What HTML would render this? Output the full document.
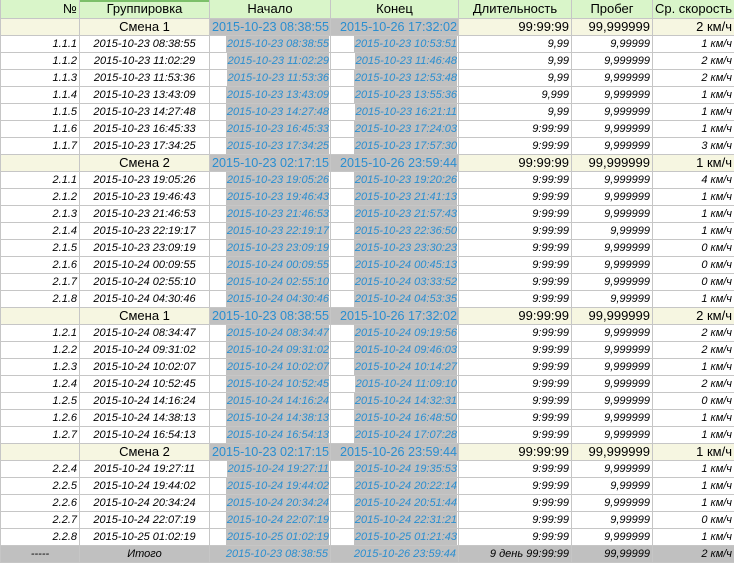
<!DOCTYPE html>
<html><head><meta charset="utf-8"><style>
html,body{margin:0;padding:0;background:#fff;}
body{width:734px;height:564px;overflow:hidden;font-family:"Liberation Sans",sans-serif;}
table{border-collapse:collapse;table-layout:fixed;width:734px;}
td{border:1px solid #c6c6c6;padding:0 2px;height:16px;line-height:16px;white-space:nowrap;overflow:hidden;text-align:right;font-size:11px;font-style:italic;color:#000;}
td:nth-child(2){text-align:center;}
tr.hd td{background:#d9f5c9;font-size:13px;font-style:normal;height:18px;text-align:center;border-top:none;}
tr.hd td:first-child{text-align:right;}
tr.hd td:nth-child(2){box-shadow:inset 0 2px 0 #7cc06a;}
tr.g td{background:#f6f6e1;font-size:13px;font-style:normal;}
tr.g td.b{background:#c0c0c0;color:#2a8ed0;padding:0 1px;font-size:12.6px;text-align:right;}
.h{background:#c0c0c0;color:#2a8ed0;display:inline-block;line-height:16px;padding-left:1px;}
td.hc{padding-right:1px;}
tr.t td{background:#c0c0c0;}
tr.t td.bl{color:#2a8ed0;}
</style></head><body>
<table>
<colgroup><col style="width:79px"><col style="width:130px"><col style="width:121px"><col style="width:128px"><col style="width:113px"><col style="width:81px"><col style="width:82px"></colgroup>
<tr class="hd"><td>№</td><td>Группировка</td><td>Начало</td><td>Конец</td><td>Длительность</td><td>Пробег</td><td style="padding:0 1px">Ср. скорость</td></tr>
<tr class="g"><td></td><td>Смена 1</td><td class="b">2015-10-23 08:38:55</td><td class="b">2015-10-26 17:32:02</td><td>99:99:99</td><td>99,999999</td><td>2 км/ч</td></tr>
<tr><td>1.1.1</td><td>2015-10-23 08:38:55</td><td class="hc"><span class="h">2015-10-23 08:38:55</span></td><td class="hc"><span class="h">2015-10-23 10:53:51</span></td><td>9,99</td><td>9,99999</td><td>1 км/ч</td></tr>
<tr><td>1.1.2</td><td>2015-10-23 11:02:29</td><td class="hc"><span class="h">2015-10-23 11:02:29</span></td><td class="hc"><span class="h">2015-10-23 11:46:48</span></td><td>9,99</td><td>9,999999</td><td>2 км/ч</td></tr>
<tr><td>1.1.3</td><td>2015-10-23 11:53:36</td><td class="hc"><span class="h">2015-10-23 11:53:36</span></td><td class="hc"><span class="h">2015-10-23 12:53:48</span></td><td>9,99</td><td>9,999999</td><td>2 км/ч</td></tr>
<tr><td>1.1.4</td><td>2015-10-23 13:43:09</td><td class="hc"><span class="h">2015-10-23 13:43:09</span></td><td class="hc"><span class="h">2015-10-23 13:55:36</span></td><td>9,999</td><td>9,999999</td><td>1 км/ч</td></tr>
<tr><td>1.1.5</td><td>2015-10-23 14:27:48</td><td class="hc"><span class="h">2015-10-23 14:27:48</span></td><td class="hc"><span class="h">2015-10-23 16:21:11</span></td><td>9,99</td><td>9,999999</td><td>1 км/ч</td></tr>
<tr><td>1.1.6</td><td>2015-10-23 16:45:33</td><td class="hc"><span class="h">2015-10-23 16:45:33</span></td><td class="hc"><span class="h">2015-10-23 17:24:03</span></td><td>9:99:99</td><td>9,999999</td><td>1 км/ч</td></tr>
<tr><td>1.1.7</td><td>2015-10-23 17:34:25</td><td class="hc"><span class="h">2015-10-23 17:34:25</span></td><td class="hc"><span class="h">2015-10-23 17:57:30</span></td><td>9:99:99</td><td>9,999999</td><td>3 км/ч</td></tr>
<tr class="g"><td></td><td>Смена 2</td><td class="b">2015-10-23 02:17:15</td><td class="b">2015-10-26 23:59:44</td><td>99:99:99</td><td>99,999999</td><td>1 км/ч</td></tr>
<tr><td>2.1.1</td><td>2015-10-23 19:05:26</td><td class="hc"><span class="h">2015-10-23 19:05:26</span></td><td class="hc"><span class="h">2015-10-23 19:20:26</span></td><td>9:99:99</td><td>9,999999</td><td>4 км/ч</td></tr>
<tr><td>2.1.2</td><td>2015-10-23 19:46:43</td><td class="hc"><span class="h">2015-10-23 19:46:43</span></td><td class="hc"><span class="h">2015-10-23 21:41:13</span></td><td>9:99:99</td><td>9,999999</td><td>1 км/ч</td></tr>
<tr><td>2.1.3</td><td>2015-10-23 21:46:53</td><td class="hc"><span class="h">2015-10-23 21:46:53</span></td><td class="hc"><span class="h">2015-10-23 21:57:43</span></td><td>9:99:99</td><td>9,999999</td><td>1 км/ч</td></tr>
<tr><td>2.1.4</td><td>2015-10-23 22:19:17</td><td class="hc"><span class="h">2015-10-23 22:19:17</span></td><td class="hc"><span class="h">2015-10-23 22:36:50</span></td><td>9:99:99</td><td>9,99999</td><td>1 км/ч</td></tr>
<tr><td>2.1.5</td><td>2015-10-23 23:09:19</td><td class="hc"><span class="h">2015-10-23 23:09:19</span></td><td class="hc"><span class="h">2015-10-23 23:30:23</span></td><td>9:99:99</td><td>9,999999</td><td>0 км/ч</td></tr>
<tr><td>2.1.6</td><td>2015-10-24 00:09:55</td><td class="hc"><span class="h">2015-10-24 00:09:55</span></td><td class="hc"><span class="h">2015-10-24 00:45:13</span></td><td>9:99:99</td><td>9,999999</td><td>0 км/ч</td></tr>
<tr><td>2.1.7</td><td>2015-10-24 02:55:10</td><td class="hc"><span class="h">2015-10-24 02:55:10</span></td><td class="hc"><span class="h">2015-10-24 03:33:52</span></td><td>9:99:99</td><td>9,999999</td><td>0 км/ч</td></tr>
<tr><td>2.1.8</td><td>2015-10-24 04:30:46</td><td class="hc"><span class="h">2015-10-24 04:30:46</span></td><td class="hc"><span class="h">2015-10-24 04:53:35</span></td><td>9:99:99</td><td>9,99999</td><td>1 км/ч</td></tr>
<tr class="g"><td></td><td>Смена 1</td><td class="b">2015-10-23 08:38:55</td><td class="b">2015-10-26 17:32:02</td><td>99:99:99</td><td>99,999999</td><td>2 км/ч</td></tr>
<tr><td>1.2.1</td><td>2015-10-24 08:34:47</td><td class="hc"><span class="h">2015-10-24 08:34:47</span></td><td class="hc"><span class="h">2015-10-24 09:19:56</span></td><td>9:99:99</td><td>9,999999</td><td>2 км/ч</td></tr>
<tr><td>1.2.2</td><td>2015-10-24 09:31:02</td><td class="hc"><span class="h">2015-10-24 09:31:02</span></td><td class="hc"><span class="h">2015-10-24 09:46:03</span></td><td>9:99:99</td><td>9,999999</td><td>2 км/ч</td></tr>
<tr><td>1.2.3</td><td>2015-10-24 10:02:07</td><td class="hc"><span class="h">2015-10-24 10:02:07</span></td><td class="hc"><span class="h">2015-10-24 10:14:27</span></td><td>9:99:99</td><td>9,999999</td><td>1 км/ч</td></tr>
<tr><td>1.2.4</td><td>2015-10-24 10:52:45</td><td class="hc"><span class="h">2015-10-24 10:52:45</span></td><td class="hc"><span class="h">2015-10-24 11:09:10</span></td><td>9:99:99</td><td>9,999999</td><td>2 км/ч</td></tr>
<tr><td>1.2.5</td><td>2015-10-24 14:16:24</td><td class="hc"><span class="h">2015-10-24 14:16:24</span></td><td class="hc"><span class="h">2015-10-24 14:32:31</span></td><td>9:99:99</td><td>9,999999</td><td>0 км/ч</td></tr>
<tr><td>1.2.6</td><td>2015-10-24 14:38:13</td><td class="hc"><span class="h">2015-10-24 14:38:13</span></td><td class="hc"><span class="h">2015-10-24 16:48:50</span></td><td>9:99:99</td><td>9,999999</td><td>1 км/ч</td></tr>
<tr><td>1.2.7</td><td>2015-10-24 16:54:13</td><td class="hc"><span class="h">2015-10-24 16:54:13</span></td><td class="hc"><span class="h">2015-10-24 17:07:28</span></td><td>9:99:99</td><td>9,999999</td><td>1 км/ч</td></tr>
<tr class="g"><td></td><td>Смена 2</td><td class="b">2015-10-23 02:17:15</td><td class="b">2015-10-26 23:59:44</td><td>99:99:99</td><td>99,999999</td><td>1 км/ч</td></tr>
<tr><td>2.2.4</td><td>2015-10-24 19:27:11</td><td class="hc"><span class="h">2015-10-24 19:27:11</span></td><td class="hc"><span class="h">2015-10-24 19:35:53</span></td><td>9:99:99</td><td>9,999999</td><td>1 км/ч</td></tr>
<tr><td>2.2.5</td><td>2015-10-24 19:44:02</td><td class="hc"><span class="h">2015-10-24 19:44:02</span></td><td class="hc"><span class="h">2015-10-24 20:22:14</span></td><td>9:99:99</td><td>9,99999</td><td>1 км/ч</td></tr>
<tr><td>2.2.6</td><td>2015-10-24 20:34:24</td><td class="hc"><span class="h">2015-10-24 20:34:24</span></td><td class="hc"><span class="h">2015-10-24 20:51:44</span></td><td>9:99:99</td><td>9,999999</td><td>1 км/ч</td></tr>
<tr><td>2.2.7</td><td>2015-10-24 22:07:19</td><td class="hc"><span class="h">2015-10-24 22:07:19</span></td><td class="hc"><span class="h">2015-10-24 22:31:21</span></td><td>9:99:99</td><td>9,99999</td><td>0 км/ч</td></tr>
<tr><td>2.2.8</td><td>2015-10-25 01:02:19</td><td class="hc"><span class="h">2015-10-25 01:02:19</span></td><td class="hc"><span class="h">2015-10-25 01:21:43</span></td><td>9:99:99</td><td>9,999999</td><td>1 км/ч</td></tr>
<tr class="t"><td style="text-align:center">-----</td><td>Итого</td><td class="bl">2015-10-23 08:38:55</td><td class="bl">2015-10-26 23:59:44</td><td>9 день 99:99:99</td><td>99,99999</td><td>2 км/ч</td></tr>
</table>
</body></html>
